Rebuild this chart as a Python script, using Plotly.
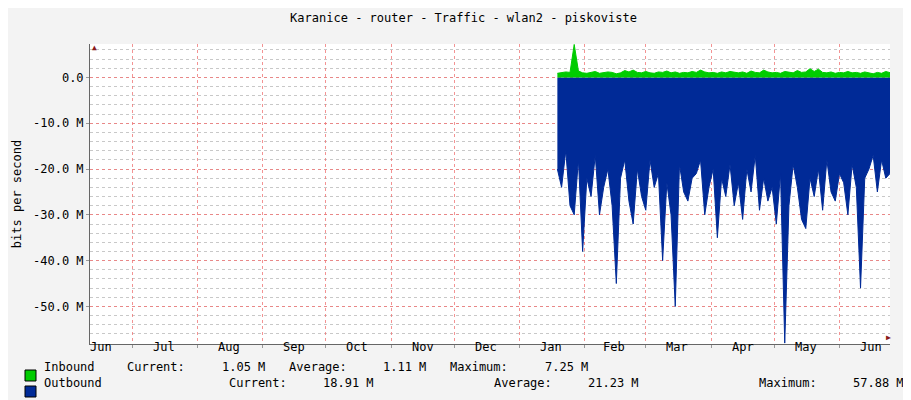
import plotly.graph_objects as go
import pandas as pd

start_day = "2020-01-19"
step_days = 2
outbound_m = [-20,-24,-16,-28,-30,-18,-38,-22,-26,-17,-30,-24,-20,-28,-45,-22,-18,-27,-32,-20,-26,-29,-18,-24,-21,-40,-23,-30,-50,-19,-25,-27,-22,-21,-18,-30,-24,-20,-35,-22,-26,-19,-28,-23,-31,-20,-25,-17,-29,-22,-27,-24,-32,-21,-58,-28,-19,-24,-31,-33,-22,-26,-20,-29,-18,-25,-27,-21,-23,-30,-19,-24,-46,-22,-20,-17,-25,-18,-22,-21]
inbound_m = [0.9,1.0,1.2,1.1,7.2,1.4,1.0,0.9,1.1,1.3,0.9,1.0,1.2,1.1,0.8,1.0,1.5,1.2,1.6,1.1,1.0,1.3,1.0,0.9,1.2,1.1,1.4,1.0,1.2,0.9,1.1,1.0,1.3,1.1,1.6,1.2,1.0,1.1,0.9,1.2,1.0,1.3,1.1,1.0,1.2,0.9,1.4,1.1,1.0,1.6,1.2,1.0,1.1,0.9,1.3,1.2,1.0,1.5,1.1,1.2,1.9,1.3,1.8,1.1,1.0,1.2,0.9,1.1,1.0,1.3,1.0,1.1,0.9,1.2,1.0,0.8,1.1,0.9,1.3,1.05]
months = ["Jun","Jul","Aug","Sep","Oct","Nov","Dec","Jan","Feb","Mar","Apr","May","Jun"]
month_mid = ["2019-06-16","2019-07-16","2019-08-16","2019-09-16","2019-10-16","2019-11-16","2019-12-16","2020-01-16","2020-02-15","2020-03-16","2020-04-16","2020-05-16","2020-06-16"]
yticks = [0,-10,-20,-30,-40,-50]
ytext = ["0.0","-10.0 M","-20.0 M","-30.0 M","-40.0 M","-50.0 M"]
legend_rows = [
    ("#00CC00", [(34, "Inbound"), (117, "Current:"), (212, "1.05 M"), (279, "Average:"), (373, "1.11 M"), (440, "Maximum:"), (535, "7.25 M")], 368),
    ("#002A97", [(34, "Outbound"), (219, "Current:"), (313, "18.91 M"), (484, "Average:"), (578, "21.23 M"), (749, "Maximum:"), (843, "57.88 M")], 384),
]

dates = pd.date_range(start_day, periods=len(outbound_m), freq=f"{step_days}D")
mono = "DejaVu Sans Mono"
L, R, T, B, W, H = 82, 29, 36, 64, 911, 400
pw, ph = W - L - R, H - T - B
fig = go.Figure()
fig.add_trace(go.Scatter(x=dates, y=[v*1e6 for v in outbound_m], mode="lines", line=dict(width=1, color="#002A97"),
                         fill="tozeroy", fillcolor="#002A97"))
fig.add_trace(go.Scatter(x=dates, y=[v*1e6 for v in inbound_m], mode="lines", line=dict(width=1, color="#00CC00"),
                         fill="tozeroy", fillcolor="#00CC00"))
fig.update_layout(
    width=W, height=H, showlegend=False,
    margin=dict(l=L, r=R, t=T, b=B, autoexpand=False),
    paper_bgcolor="#F3F3F3", plot_bgcolor="white",
    font=dict(family=mono, size=12, color="#000"),
    title=dict(text="Karanice - router - Traffic - wlan2 - piskoviste", x=0.5, y=0.985, yanchor="top",
               font=dict(family=mono, size=12)),
)
fig.update_xaxes(range=["2019-06-11","2020-06-25"], type="date", dtick="M1", tick0="2019-07-01", automargin=False,
                 showticklabels=False, showgrid=True, gridcolor="rgba(240,120,120,0.8)", griddash="dot",
                 gridwidth=1, showline=True, linecolor="#666", ticks="outside", ticklen=3, tickcolor="#999", zeroline=False)
fig.update_yaxes(range=[-58.2e6, 7.3e6], tickvals=[v*1e6 for v in yticks], ticktext=ytext, automargin=False,
                 showgrid=True, gridcolor="rgba(240,120,120,0.8)", griddash="dot",
                 minor=dict(dtick=2e6, showgrid=True, gridcolor="#C8C8C8", griddash="dot"),
                 showline=True, linecolor="#666", ticks="outside", ticklen=3, tickcolor="#999", zeroline=False,
                 title=dict(text="bits per second", standoff=8, font=dict(size=12)))
for m, d in zip(months, month_mid):
    fig.add_annotation(x=d, y=0, yref="paper", yshift=-12, text=m, showarrow=False, font=dict(size=12))
fig.add_annotation(xref="paper", yref="paper", x=1.0, y=0, text="▶", showarrow=False, xshift=3,
                   font=dict(size=8, color="#8B1A1A"))
fig.add_annotation(xref="paper", yref="paper", x=0, y=1.0, text="▲", showarrow=False, yshift=3,
                   font=dict(size=8, color="#8B1A1A"))
fig.add_annotation(xref="paper", yref="paper", x=1.0, y=1.1, xshift=22, yanchor="top", text="RRDTOOL / TOBI OETIKER",
                   textangle=90, showarrow=False, font=dict(size=8, color="#999"))
for col, items, py in legend_rows:
    yp = (H - py - B) / ph
    fig.add_shape(type="rect", xref="paper", yref="paper", x0=(17-L)/pw, x1=(28-L)/pw,
                  y0=(H-py-B-5)/ph, y1=(H-py-B+6)/ph, fillcolor=col, line=dict(color="#000", width=1))
    for px, txt in items:
        fig.add_annotation(xref="paper", yref="paper", x=(px-L)/pw, y=yp, xanchor="left",
                           text=txt, showarrow=False, font=dict(size=12))
fig.write_html("out.html")
